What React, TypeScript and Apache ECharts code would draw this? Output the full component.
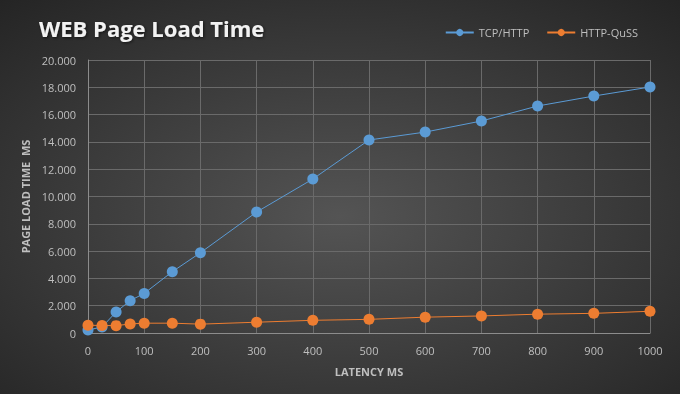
import React, { useEffect, useRef } from "react";
import * as echarts from "echarts";

const latency = [0, 25, 50, 75, 100, 150, 200, 300, 400, 500, 600, 700, 800, 900, 1000];
const tcpHttp = [220, 440, 1540, 2370, 2900, 4490, 5880, 8860, 11280, 14140, 14720, 15530, 16630, 17360, 18020];
const httpQuss = [570, 550, 540, 660, 720, 720, 650, 790, 930, 1000, 1160, 1250, 1380, 1440, 1590];
const seriesNames = ["TCP/HTTP", "HTTP-QuSS"];

const fmt = (v: number) => {
  if (v === 0) return "0";
  const s = String(Math.round(v));
  return s.replace(/\B(?=(\d{3})+(?!\d))/g, ".");
};

export default function App() {
  const ref = useRef<HTMLDivElement>(null);
  useEffect(() => {
    const chart = echarts.init(ref.current!, null, { renderer: "svg" });
    const font = "'Open Sans', 'DejaVu Sans', sans-serif";
    chart.setOption({
      animation: false,
      backgroundColor: {
        type: "radial",
        x: 0.5,
        y: 0.55,
        r: 0.75,
        colorStops: [
          { offset: 0, color: "#545454" },
          { offset: 1, color: "#242424" },
        ],
      },
      textStyle: { fontFamily: font },
      title: {
        text: "WEB Page Load Time",
        left: 34,
        top: 12,
        textStyle: {
          color: "#f2f2f2",
          fontSize: 22,
          fontWeight: "bold",
          fontFamily: font,
          textShadowColor: "rgba(0,0,0,0.6)",
          textShadowBlur: 3,
          textShadowOffsetX: 1,
          textShadowOffsetY: 1,
        },
      },
      legend: {
        right: 37,
        top: 22,
        itemWidth: 28,
        itemHeight: 9,
        itemGap: 17,
        textStyle: { color: "#bfbfbf", fontSize: 11, fontFamily: font },
        data: seriesNames,
      },
      grid: { left: 88, right: 30, top: 60, bottom: 61, containLabel: false },
      xAxis: {
        type: "value",
        min: 0,
        max: 1000,
        interval: 100,
        name: "LATENCY MS",
        nameLocation: "middle",
        nameGap: 33,
        nameTextStyle: { color: "#bfbfbf", fontSize: 11, fontWeight: "bold", fontFamily: font },
        axisLine: { lineStyle: { color: "#8c8c8c" } },
        axisTick: { show: false },
        axisLabel: { color: "#bfbfbf", fontSize: 11, margin: 12, fontFamily: font, formatter: (v: number) => String(v) },
        splitLine: { show: true, lineStyle: { color: "#6a6a6a", width: 1 } },
      },
      yAxis: {
        type: "value",
        min: 0,
        max: 20000,
        interval: 2000,
        name: "PAGE LOAD TIME  MS",
        nameLocation: "middle",
        nameGap: 52,
        nameTextStyle: { color: "#bfbfbf", fontSize: 11, fontWeight: "bold", fontFamily: font },
        axisLine: { show: true, lineStyle: { color: "#8c8c8c" } },
        axisTick: { show: false },
        axisLabel: { color: "#bfbfbf", fontSize: 11, margin: 12, formatter: fmt, fontFamily: font },
        splitLine: { show: true, lineStyle: { color: "#6a6a6a", width: 1 } },
      },
      series: [
        {
          name: seriesNames[0],
          type: "line",
          data: latency.map((x, i) => [x, tcpHttp[i]]),
          symbol: "circle",
          symbolSize: 11,
          color: "#5b9bd5",
          lineStyle: { width: 1, color: "#5b9bd5" },
          itemStyle: { color: "#5b9bd5", borderWidth: 0 },
        },
        {
          name: seriesNames[1],
          type: "line",
          data: latency.map((x, i) => [x, httpQuss[i]]),
          symbol: "circle",
          symbolSize: 11,
          color: "#ed7d31",
          lineStyle: { width: 1, color: "#ed7d31" },
          itemStyle: { color: "#ed7d31", borderWidth: 0 },
        },
      ],
    });
    return () => chart.dispose();
  }, []);
  return <div ref={ref} style={{ position: "fixed", left: 0, top: 0, width: 680, height: 394 }} />;
}
